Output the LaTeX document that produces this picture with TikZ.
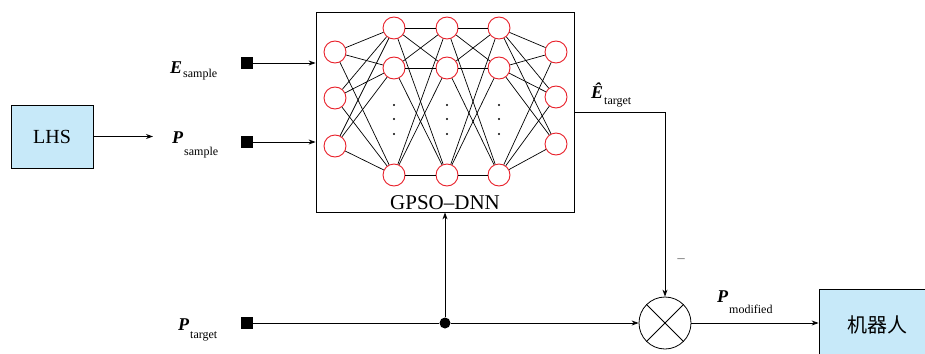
\documentclass[tikz,border=0pt]{standalone}
\usepackage{fontspec}
\setmainfont{Liberation Serif}
\newfontfamily\cjk{Noto Sans CJK SC}
\usepackage{tikz}
\usetikzlibrary{shapes.geometric, arrows.meta, positioning, calc}
\definecolor{boxblue}{RGB}{199,233,249}
\definecolor{neuronred}{RGB}{232,30,40}
\definecolor{minusgray}{RGB}{110,110,110}
\newcommand{\varlbl}[3]{{\fontsize{18}{18}\selectfont\bfseries\itshape #1}%
  \kern1pt\raisebox{-#3}{\fontsize{12}{12}\selectfont #2}}
\tikzset{
  blk/.style={
    rectangle, draw, thick, fill=boxblue, inner sep=0pt,
    font=\rmfamily\fontsize{20}{20}\selectfont
  },
  sq/.style={rectangle, fill=black, minimum size=12pt, inner sep=0pt},
  neuron/.style={circle, draw=neuronred, line width=0.9pt,
    minimum size=22pt, inner sep=0pt},
  lbl/.style={anchor=base west, inner sep=0pt},
  arr/.style={-{Stealth[length=7pt, width=5pt]}, line width=0.8pt},
  wire/.style={line width=0.8pt}
}

\begin{document}
\begin{tikzpicture}[x=1pt, y=-1pt]
  \useasboundingbox (0,0) rectangle (925,353);

  % network box and neurons
  \node[draw, thick, minimum width=258pt, minimum height=200pt] (dnn) at (445,112) {};
  \node[anchor=base, font=\fontsize{21}{21}\selectfont] (dnnlbl) at (445,209) {GPSO--DNN};

  \foreach \y [count=\i] in {52,98,146}
    \node[neuron] (n1-\i) at (335,\y) {};
  \foreach \x [count=\l from 2] in {394,447,499}
    \foreach \y [count=\i] in {28,68,175}
      \node[neuron] (n\l-\i) at (\x,\y) {};
  \foreach \y [count=\i] in {52,97,144}
    \node[neuron] (n5-\i) at (556,\y) {};

  \foreach \l [evaluate=\l as \m using int(\l+1)] in {1,...,4}
    \foreach \i in {1,2,3}
      \foreach \j in {1,2,3}
        \draw[line width=0.7pt] (n\l-\i) -- (n\m-\j);

  \foreach \x in {394,447,499}
    \foreach \y in {105,119,134}
      \fill (\x,\y) circle (1.1pt);

  % inputs
  \node[blk, minimum width=82pt, minimum height=63pt] (lhs) at (52,136.5) {LHS};
  \coordinate (lhsend) at (153,136.5);
  \draw[arr] (lhs) -- (lhsend);

  \node[sq] (esq) at (247,63) {};
  \node[sq] (psq) at (247,142) {};
  \node[sq] (tsq) at (247,323) {};
  \node[lbl] (elbl) at (170,73)  {\varlbl{E}{sample}{4pt}};
  \node[lbl] (plbl) at (172,143) {\varlbl{P}{sample}{12pt}};
  \node[lbl] (tlbl) at (178,330) {\varlbl{P}{target}{8pt}};

  \draw[arr] (esq) -- (esq -| dnn.west);
  \draw[arr] (psq) -- (psq -| dnn.west);

  % comparison and output
  \node[circle, draw, line width=0.8pt, minimum size=52pt, inner sep=0pt] (mult) at (665,323) {};
  \draw[wire] (mult.north west) -- (mult.south east);
  \draw[wire] (mult.north east) -- (mult.south west);

  \node[circle, fill=black, minimum size=11pt, inner sep=0pt] (junc) at (445,323) {};
  \draw[wire] (tsq) -- (junc);
  \draw[arr] (junc) -- (dnn.south);
  \draw[arr] (junc) -- (mult.west);

  \draw[arr] (dnn.east) -| (mult.north);
  \node[lbl] (ehat) at (591,98) {\varlbl{\^E}{target}{6pt}};
  \node[font=\fontsize{16}{16}\selectfont, text=minusgray] (minus) at (681,262) {−};

  \node[blk, minimum width=116pt, minimum height=72pt] (robot) at (877,325) {\cjk 机器人};
  \draw[arr] (mult) -- (mult -| robot.west);
  \node[lbl] (mlbl) at (717,302) {\varlbl{P}{modified}{11pt}};
\end{tikzpicture}
\end{document}
